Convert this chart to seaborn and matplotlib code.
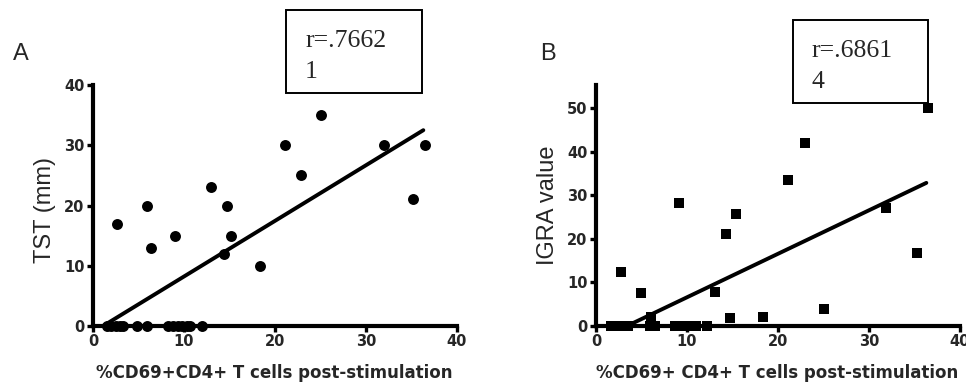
import matplotlib
matplotlib.use("Agg")
import matplotlib.pyplot as plt
from matplotlib.patches import Rectangle
import seaborn as sns
import pandas as pd
import numpy as np

# ---- data: panel A (TST) ----
a_x = [2.6, 5.9, 6.4, 9.0, 13.0, 14.7, 15.2, 14.4, 18.4, 21.1, 22.9, 25.1, 32.0, 35.2, 36.5,
       1.5, 2.0, 2.5, 3.0, 3.3, 4.8, 5.9, 8.2, 8.8, 9.3, 9.8, 10.3, 10.7, 12.0]
a_y = [17, 20, 13, 15, 23, 20, 15, 12, 10, 30, 25, 35, 30, 21, 30,
       0, 0, 0, 0, 0, 0, 0, 0, 0, 0, 0, 0, 0, 0]
a_fit_x = [1.1, 36.3]
a_fit_y = [0.0, 32.5]
a_r_text = ["r=.7662", "1"]

# ---- data: panel B (IGRA) ----
b_x = [2.8, 4.9, 9.1, 13.1, 14.3, 15.4, 14.7, 18.4, 21.1, 23.0, 25.1, 31.9, 35.3, 36.5,
       1.7, 2.6, 3.0, 3.5, 5.9, 6.2, 6.5, 8.7, 9.2, 10.3, 11.0, 12.2, 6.0]
b_y = [12.5, 7.5, 28.3, 7.9, 21.1, 25.7, 1.8, 2.1, 33.5, 42.1, 4.0, 27.2, 16.7, 50.0,
       0, 0, 0, 0, 0, 0, 0, 0, 0, 0, 0, 0, 2.0]
b_fit_x = [3.4, 36.3]
b_fit_y = [0.0, 32.9]
b_r_text = ["r=.6861", "4"]

x_ticks = [0, 10, 20, 30, 40]
a_yticks = [0, 10, 20, 30, 40]
b_yticks = [0, 10, 20, 30, 40, 50]
x_label_a = "%CD69+CD4+ T cells post-stimulation"
x_label_b = "%CD69+ CD4+ T cells post-stimulation"

sns.set_theme(style="ticks")
plt.rcParams['font.family'] = ['Liberation Sans', 'DejaVu Sans']

W, H = 966, 388
fig = plt.figure(figsize=(W / 100, H / 100), dpi=100)

def fx(px):
    return px / W

def fy(py):
    return 1 - py / H

axA = fig.add_axes([fx(93), fy(326), fx(457) - fx(93), fy(85) - fy(326)])
axB = fig.add_axes([fx(596), fy(326), fx(960) - fx(596), fy(85) - fy(326)])

dfA = pd.DataFrame({"x": a_x, "y": a_y})
dfB = pd.DataFrame({"x": b_x, "y": b_y})

sns.scatterplot(data=dfA, x="x", y="y", ax=axA, color="black", marker="o", s=62,
                edgecolor="black", linewidth=0, clip_on=False, zorder=5)
sns.lineplot(x=a_fit_x, y=a_fit_y, ax=axA, color="black", lw=2.8)

sns.scatterplot(data=dfB, x="x", y="y", ax=axB, color="black", marker="s", s=62,
                edgecolor="black", linewidth=0, clip_on=False, zorder=5)
sns.lineplot(x=b_fit_x, y=b_fit_y, ax=axB, color="black", lw=2.8)

for ax, yt, ylim, ylab, xlab, ylab_y in [
        (axA, a_yticks, (0, 40), "TST (mm)", x_label_a, 0.48),
        (axB, b_yticks, (0, 55.4), "IGRA value", x_label_b, 0.5)]:
    ax.set_xlim(0, 40)
    ax.set_ylim(*ylim)
    ax.set_xticks(x_ticks)
    ax.set_yticks(yt)
    for s in ["top", "right"]:
        ax.spines[s].set_visible(False)
    for s in ["left", "bottom"]:
        ax.spines[s].set_linewidth(3.0)
        ax.spines[s].set_color("black")
    ax.tick_params(axis="both", direction="out", length=4, width=2.4, color="black",
                   labelsize=10.5, pad=2)
    for lab in ax.get_xticklabels() + ax.get_yticklabels():
        lab.set_fontweight("bold")
        lab.set_family("DejaVu Sans")
    ax.set_xlabel(xlab, fontsize=12, fontweight="bold", family="DejaVu Sans")
    ax.xaxis.set_label_coords(0.497, -0.158)
    ax.set_ylabel(ylab, fontsize=17)
    ax.yaxis.set_label_coords(-0.103, ylab_y)
    ax.set_facecolor("white")

# panel letters
fig.text(fx(13), fy(60), "A", fontsize=17, ha="left", va="baseline")
fig.text(fx(540), fy(60), "B", fontsize=17, ha="left", va="baseline")

# r-value boxes
for (x0, y0, x1, y1, tx, base1, base2, txt) in [
        (286, 10, 422, 93, 305, 47, 78, a_r_text),
        (793, 20, 928, 103, 811, 57, 88, b_r_text)]:
    fig.add_artist(Rectangle((fx(x0), fy(y1)), fx(x1) - fx(x0), fy(y0) - fy(y1),
                             transform=fig.transFigure, fill=False, lw=1.4,
                             edgecolor="black"))
    fig.text(fx(tx), fy(base1), txt[0], fontsize=18.5, family="Liberation Serif",
             ha="left", va="baseline")
    fig.text(fx(tx), fy(base2), txt[1], fontsize=18.5, family="Liberation Serif",
             ha="left", va="baseline")

fig.savefig("out.png", dpi=100, facecolor="white")
